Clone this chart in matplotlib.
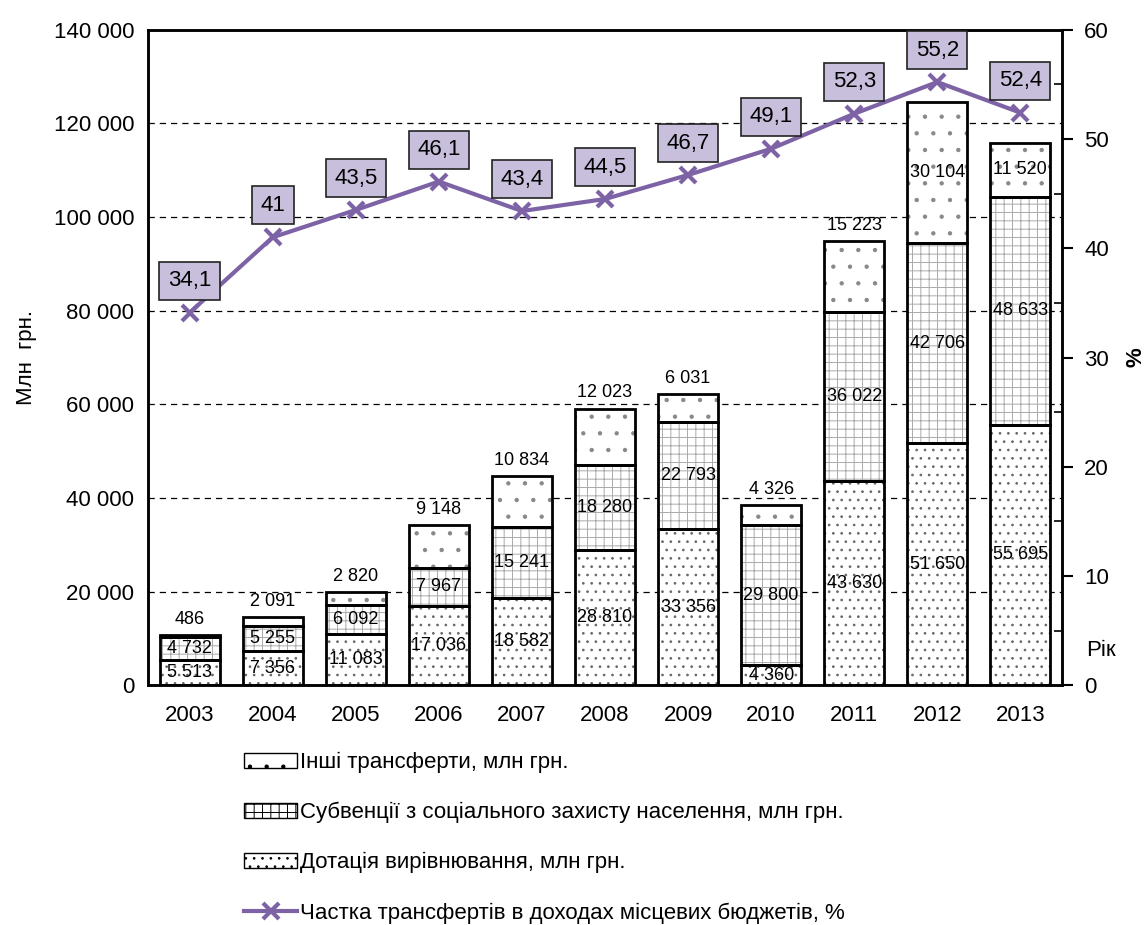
import numpy as np
import matplotlib.pyplot as plt
from matplotlib.ticker import FuncFormatter, MultipleLocator

plt.rcParams['font.family'] = ['Liberation Sans', 'DejaVu Sans']
plt.rcParams['hatch.linewidth'] = 0.7

roky = ["2003", "2004", "2005", "2006", "2007", "2008", "2009", "2010", "2011", "2012", "2013"]
dotaciya = [5513, 7356, 11083, 17036, 18582, 28810, 33356, 4360, 43630, 51650, 55695]
subvenciyi = [4732, 5255, 6092, 7967, 15241, 18280, 22793, 29800, 36022, 42706, 48633]
inshi = [486, 2091, 2820, 9148, 10834, 12023, 6031, 4326, 15223, 30104, 11520]
chastka = [34.1, 41, 43.5, 46.1, 43.4, 44.5, 46.7, 49.1, 52.3, 55.2, 52.4]


def fmt(v):
    return f"{int(v):,}".replace(",", " ")


x = np.arange(len(roky))
w = 0.72
bottom2 = np.array(dotaciya)
bottom3 = bottom2 + np.array(subvenciyi)
total = bottom3 + np.array(inshi)

fig = plt.figure(figsize=(11.48, 9.25), dpi=100)
ax = fig.add_axes([0.129, 0.259, 0.796, 0.709])

# hatch layers (grey), then black outlines
ax.bar(x, dotaciya, w, color="white", edgecolor="#666666", hatch="..", linewidth=0)
ax.bar(x, subvenciyi, w, bottom=bottom2, color="white", edgecolor="#aaaaaa", hatch="++", linewidth=0)
ax.bar(x, inshi, w, bottom=bottom3, color="white", edgecolor="#888888", hatch=".", linewidth=0)
ax.bar(x, dotaciya, w, fill=False, edgecolor="black", linewidth=2)
ax.bar(x, subvenciyi, w, bottom=bottom2, fill=False, edgecolor="black", linewidth=2)
ax.bar(x, inshi, w, bottom=bottom3, fill=False, edgecolor="black", linewidth=2)

for i in range(len(x)):
    ax.text(x[i], dotaciya[i] / 2, fmt(dotaciya[i]), ha="center", va="center", fontsize=13)
    ax.text(x[i], bottom2[i] + subvenciyi[i] / 2, fmt(subvenciyi[i]), ha="center", va="center", fontsize=13)
    if i >= 9:
        ax.text(x[i], bottom3[i] + inshi[i] / 2, fmt(inshi[i]), ha="center", va="center", fontsize=13)
    else:
        ax.text(x[i], total[i] + 1500, fmt(inshi[i]), ha="center", va="bottom", fontsize=13)

ax.set_xlim(-0.5, 10.5)
ax.set_ylim(0, 140000)
ax.yaxis.set_major_locator(MultipleLocator(20000))
ax.yaxis.set_major_formatter(FuncFormatter(lambda v, p: fmt(v)))
ax.set_xticks(x)
ax.set_xticklabels(roky)
ax.tick_params(axis="both", length=0, labelsize=16)
ax.tick_params(axis="x", pad=14)
ax.tick_params(axis="y", pad=10)
ax.yaxis.grid(True, linestyle=(0, (5, 4)), color="black", linewidth=0.9)
ax.set_axisbelow(True)
for s in ax.spines.values():
    s.set_linewidth(1.8)
ax.set_ylabel("Млн  грн.", fontsize=16, labelpad=12)

ax2 = ax.twinx()
ax2.plot(x, chastka, color="#7d62a6", linewidth=3, marker="x", markersize=11, markeredgewidth=3)
for i in range(len(x)):
    ax2.annotate(str(chastka[i]).replace(".", ","), (x[i], chastka[i]), xytext=(0, 23),
                 textcoords="offset points", ha="center", va="center", fontsize=16,
                 bbox=dict(boxstyle="square,pad=0.38", fc="#c8bfdc", ec="#222222", lw=1.2))
ax2.set_ylim(0, 60)
ax2.yaxis.set_major_locator(MultipleLocator(10))
ax2.yaxis.set_minor_locator(MultipleLocator(5))
ax2.tick_params(axis="y", which="major", length=8, width=1.5, direction="out", labelsize=16, pad=8)
ax2.tick_params(axis="y", which="minor", length=6, width=1.2, direction="in")
for s in ax2.spines.values():
    s.set_linewidth(1.8)
ax2.set_ylabel("%", fontsize=16, fontweight="bold", labelpad=12)
fig.text(0.946, 0.297, "Рік", fontsize=16, ha="left", va="center")

handles = [
    plt.Rectangle((0, 0), 1, 1, fc="white", ec="black", hatch="."),
    plt.Rectangle((0, 0), 1, 1, fc="white", ec="black", hatch="++"),
    plt.Rectangle((0, 0), 1, 1, fc="white", ec="black", hatch=".."),
    plt.Line2D([], [], color="#7d62a6", linewidth=3, marker="x", markersize=11, markeredgewidth=3),
]
labels = [
    "Інші трансферти, млн грн.",
    "Субвенції з соціального захисту населення, млн грн.",
    "Дотація вирівнювання, млн грн.",
    "Частка трансфертів в доходах місцевих бюджетів, %",
]
fig.legend(handles, labels, loc="upper left", bbox_to_anchor=(0.203, 0.199), frameon=False,
           fontsize=16, labelspacing=1.3, handlelength=2.4, handletextpad=0.12, borderpad=0)

fig.savefig("out.png", dpi=100)
